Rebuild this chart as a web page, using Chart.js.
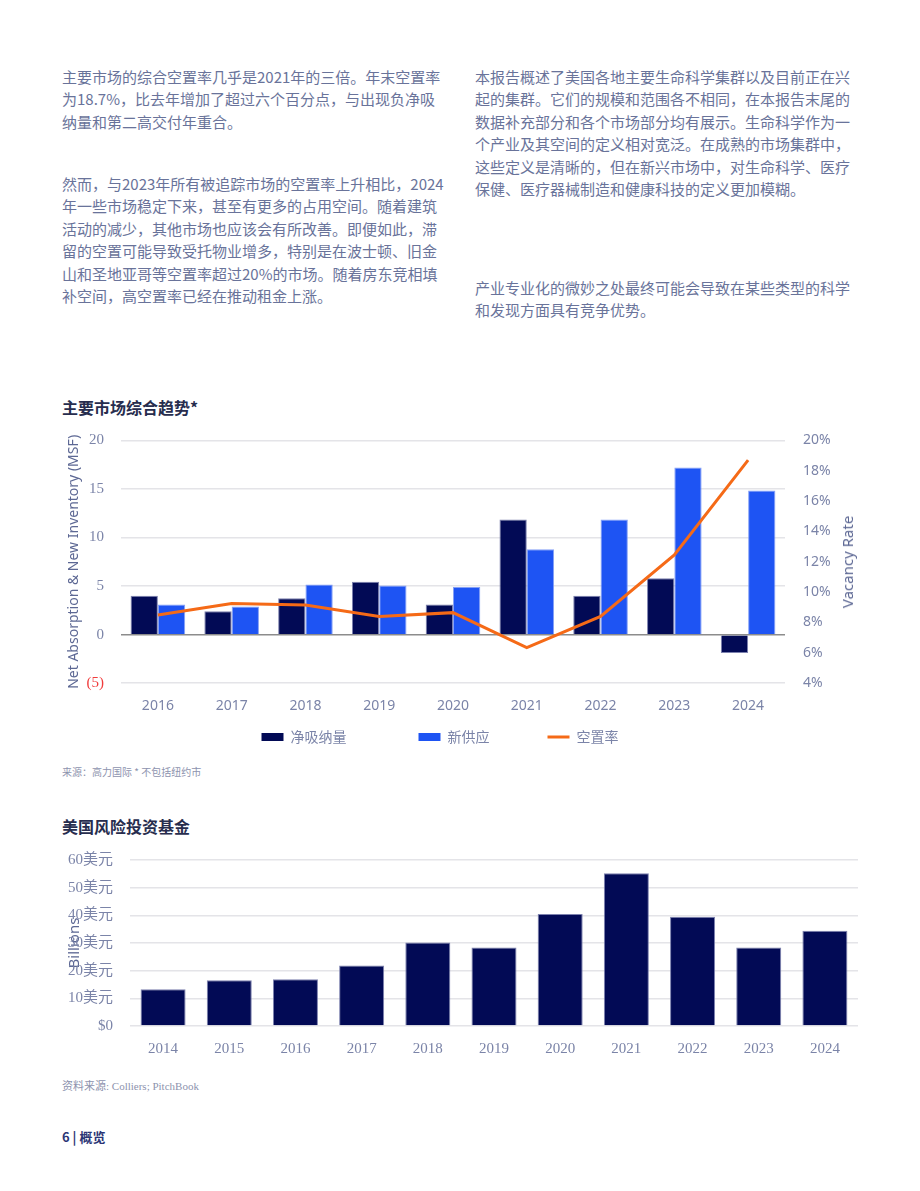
<!DOCTYPE html>
<html lang="zh-CN">
<head>
<meta charset="utf-8">
<title>主要市场综合趋势</title>
<script src="https://cdn.jsdelivr.net/npm/chart.js@4.4.1/dist/chart.umd.min.js"></script>
<style>
  html, body { margin: 0; padding: 0; background: #fff; }
  body { width: 920px; height: 1191px; position: relative; overflow: hidden;
         font-family: "Noto Sans CJK SC", "Noto Sans", sans-serif; }
  .col { position: absolute; font-size: 15px; line-height: 22.4px; color: #69739a; white-space: nowrap; }
  .h { position: absolute; left: 62px; font-size: 16px; line-height: 22px; font-weight: bold; color: #272d4e; }
  .note { position: absolute; left: 62px; color: #8d93ae; white-space: nowrap; }
  canvas { position: absolute; left: 0; }
  #vac { position: absolute; left: 847px; top: 562px; transform: translate(-50%, -50%) rotate(-90deg);
         font-family: "Noto Sans", sans-serif; font-size: 15px; color: #5d6894; white-space: nowrap; }
</style>
</head>
<body>

<div class="col" style="left:62px; top:66px;">
主要市场的综合空置率几乎是2021年的三倍。年末空置率<br>
为18.7%，比去年增加了超过六个百分点，与出现负净吸<br>
纳量和第二高交付年重合。
</div>
<div class="col" style="left:62px; top:173px;">
然而，与2023年所有被追踪市场的空置率上升相比，2024<br>
年一些市场稳定下来，甚至有更多的占用空间。随着建筑<br>
活动的减少，其他市场也应该会有所改善。即便如此，滞<br>
留的空置可能导致受托物业增多，特别是在波士顿、旧金<br>
山和圣地亚哥等空置率超过20%的市场。随着房东竞相填<br>
补空间，高空置率已经在推动租金上涨。
</div>
<div class="col" style="left:475px; top:66px;">
本报告概述了美国各地主要生命科学集群以及目前正在兴<br>
起的集群。它们的规模和范围各不相同，在本报告末尾的<br>
数据补充部分和各个市场部分均有展示。生命科学作为一<br>
个产业及其空间的定义相对宽泛。在成熟的市场集群中，<br>
这些定义是清晰的，但在新兴市场中，对生命科学、医疗<br>
保健、医疗器械制造和健康科技的定义更加模糊。
</div>
<div class="col" style="left:475px; top:277px;">
产业专业化的微妙之处最终可能会导致在某些类型的科学<br>
和发现方面具有竞争优势。
</div>

<div class="h" style="top:396px;">主要市场综合趋势*</div>
<canvas id="graph1" width="880" height="340" style="top:414px;"></canvas>
<div id="vac">Vacancy Rate</div>
<div class="note" style="top:765px; font-size:10px; line-height:14px;">来源：高力国际 * 不包括纽约市</div>

<div class="h" style="top:815px;">美国风险投资基金</div>
<canvas id="graph2" width="920" height="238" style="top:834px;"></canvas>
<div class="note" style="top:1078px; font-size:11px; line-height:16px; font-family:'Liberation Serif','Noto Sans CJK SC',serif;">资料来源: Colliers; PitchBook</div>
<div class="note" style="top:1128px; font-size:13px; line-height:18px; font-weight:bold; color:#2b3575;">6 | 概览</div>

<script>
// chart 1 - main market trends
const years1 = ['2016', '2017', '2018', '2019', '2020', '2021', '2022', '2023', '2024'];
const netAbsorption = [4.0, 2.4, 3.75, 5.45, 3.1, 11.85, 4.0, 5.8, -1.9];
const newSupply = [3.1, 2.9, 5.15, 5.05, 4.9, 8.8, 11.85, 17.2, 14.85];
const vacancyRate = [8.5, 9.25, 9.15, 8.4, 8.65, 6.35, 8.4, 12.45, 18.7];
const seriesNames = ['净吸纳量', '新供应', '空置率'];

// chart 2 - US venture funding (billions)
const years2 = ['2014', '2015', '2016', '2017', '2018', '2019', '2020', '2021', '2022', '2023', '2024'];
const ventureFunding = [13.3, 16.5, 16.9, 21.9, 30.2, 28.4, 40.5, 55.2, 39.5, 28.4, 34.4];

const navy = '#020a55';
const blue = '#1e54f3';
const orange = '#f56a17';
const tickGrey = '#7b84a8';
const titleGrey = '#5d6894';
const gridGrey = '#e4e4e8';
const serif = "'Liberation Serif', 'Noto Sans CJK SC', serif";
const sans = "'Noto Sans', 'Noto Sans CJK SC', sans-serif";

// extra space after legend text so items spread out like the original
const legendGap = ['\u3000\u3000\u3000\u3000\u3000', '\u3000\u3000\u3000\u3000', ''];

Chart.defaults.font.family = "'Noto Sans CJK SC', 'Noto Sans', sans-serif";
Chart.defaults.animation = false;

const chart1 = document.getElementById('graph1').getContext('2d');
const myChart1 = new Chart(chart1, {
    type: 'bar',
    data: {
        labels: years1,
        datasets: [{
            label: seriesNames[0],
            data: netAbsorption,
            backgroundColor: navy,
            borderColor: 'rgba(110,115,165,0.9)',
            borderWidth: 1,
            order: 1
        }, {
            label: seriesNames[1],
            data: newSupply,
            backgroundColor: blue,
            borderColor: 'rgba(120,150,245,0.9)',
            borderWidth: 1,
            order: 1
        }, {
            type: 'line',
            label: seriesNames[2],
            data: vacancyRate,
            yAxisID: 'y1',
            borderColor: orange,
            backgroundColor: orange,
            borderWidth: 3,
            pointRadius: 0,
            tension: 0,
            order: 0
        }]
    },
    options: {
        responsive: false,
        devicePixelRatio: 1,
        categoryPercentage: 0.74,
        barPercentage: 1,
        layout: { padding: 0 },
        scales: {
            x: {
                grid: { display: false, drawTicks: false },
                border: { display: false },
                ticks: { color: tickGrey, padding: 14, font: { family: sans, size: 14 } }
            },
            y: {
                position: 'left',
                min: -5,
                max: 20,
                afterFit: (scale) => { scale.width = 121; },
                grid: {
                    drawTicks: false,
                    lineWidth: 1.5,
                    color: (ctx) => ctx.tick && ctx.tick.value === 0 ? '#8c8c8c' : gridGrey
                },
                border: { display: false },
                ticks: {
                    stepSize: 5,
                    padding: 17,
                    font: { family: serif, size: 15 },
                    color: (ctx) => ctx.tick && ctx.tick.value < 0 ? '#f03c3c' : tickGrey,
                    callback: (v) => v < 0 ? '(' + Math.abs(v) + ')' : v
                },
                title: {
                    display: true,
                    text: 'Net Absorption & New Inventory (MSF)',
                    color: titleGrey,
                    font: { family: sans, size: 14 },
                    padding: { top: 66, bottom: 0 }
                }
            },
            y1: {
                position: 'right',
                min: 4,
                max: 20,
                afterFit: (scale) => { scale.width = 95; },
                grid: { drawOnChartArea: false, drawTicks: false },
                border: { display: false },
                ticks: {
                    stepSize: 2,
                    padding: 18,
                    color: tickGrey,
                    font: { family: sans, size: 14 },
                    callback: (v) => v + '%'
                }
            }
        },
        plugins: {
            tooltip: { enabled: false },
            legend: {
                position: 'bottom',
                labels: {
                    usePointStyle: true,
                    pointStyleWidth: 22,
                    boxHeight: 8,
                    padding: 2,
                    color: tickGrey,
                    font: { size: 14 },
                    sort: (a, b) => a.datasetIndex - b.datasetIndex,
                    generateLabels: (chart) => {
                        const items = Chart.defaults.plugins.legend.labels.generateLabels(chart);
                        items.forEach((item) => {
                            const ds = chart.data.datasets[item.datasetIndex];
                            item.text = ds.label + legendGap[item.datasetIndex];
                            if (ds.type === 'line') {
                                item.pointStyle = 'line';
                                item.strokeStyle = ds.borderColor;
                                item.lineWidth = 3;
                            } else {
                                item.pointStyle = 'rect';
                                item.lineWidth = 0;
                            }
                        });
                        return items;
                    }
                }
            }
        }
    }
});

const chart2 = document.getElementById('graph2').getContext('2d');
const myChart2 = new Chart(chart2, {
    type: 'bar',
    data: {
        labels: years2,
        datasets: [{
            label: 'Billions',
            data: ventureFunding,
            backgroundColor: navy,
            borderColor: 'rgba(110,115,165,0.9)',
            borderWidth: 1
        }]
    },
    options: {
        responsive: false,
        devicePixelRatio: 1,
        categoryPercentage: 0.68,
        barPercentage: 1,
        layout: { padding: { top: 0, left: 0, right: 62, bottom: 0 } },
        scales: {
            x: {
                grid: { display: false, drawTicks: false },
                border: { display: false },
                ticks: { color: tickGrey, padding: 14, font: { family: serif, size: 15 } }
            },
            y: {
                min: 0,
                max: 60,
                afterFit: (scale) => { scale.width = 130; },
                grid: { drawTicks: false, lineWidth: 1.5, color: gridGrey },
                border: { display: false },
                ticks: {
                    stepSize: 10,
                    padding: 17,
                    color: tickGrey,
                    font: { family: serif, size: 15 },
                    callback: (v) => v === 0 ? '$0' : v + '美元'
                },
                title: {
                    display: true,
                    text: 'Billions',
                    color: titleGrey,
                    font: { family: sans, size: 15 },
                    padding: { top: 66, bottom: 0 }
                }
            }
        },
        plugins: {
            legend: { display: false },
            tooltip: { enabled: false }
        }
    }
});
</script>
</body>
</html>
